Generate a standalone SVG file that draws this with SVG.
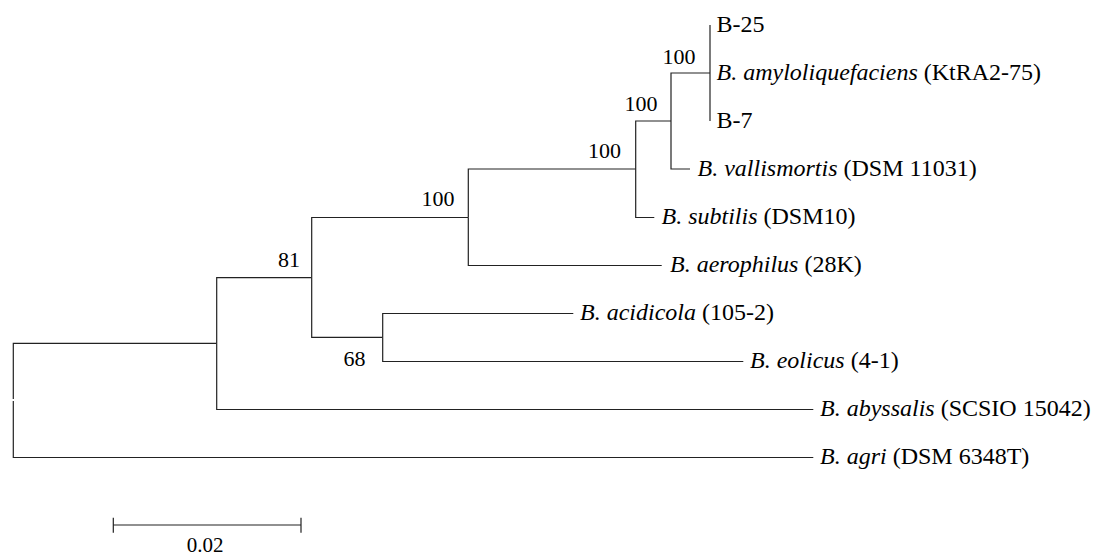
<svg xmlns="http://www.w3.org/2000/svg" width="1093" height="556" viewBox="0 0 1093 556">
<style>
.br{fill:none;stroke:#222;stroke-width:1.2}
.lb{font-family:"Liberation Serif","Times New Roman",serif;font-size:24px;fill:#000}
.bs{font-family:"Liberation Serif","Times New Roman",serif;font-size:22px;fill:#000;text-anchor:end}
.it{font-style:italic}
</style>
<rect width="1093" height="556" fill="#fff"/>
<g id="connectors" class="br">
<path d="M13.3 399 V343.3 H216.7"/>
<path d="M13.3 401 V457.5 H813.3"/>
<path d="M216.7 343.3 V277.7 H311.7"/>
<path d="M216.7 343.3 V409.5 H813.3"/>
<path d="M311.7 277.7 V217.5 H468.3"/>
<path d="M311.7 277.7 V337.3 H382.7"/>
<path d="M382.7 337.3 V313.5 H573.3"/>
<path d="M382.7 337.3 V361.5 H743.3"/>
<path d="M468.3 217.5 V169 H635.7"/>
<path d="M468.3 217.5 V265.5 H661.7"/>
<path d="M635.7 169 V121 H671"/>
<path d="M635.7 169 V217.5 H654.3"/>
<path d="M671 121 V73 H710"/>
<path d="M671 121 V169 H690"/>
<path d="M710 25 V121"/>
</g>
<g id="leaf-b25"><text class="lb" x="716.5" y="31.5">B-25</text></g>
<g id="leaf-amylo"><text class="lb" x="716.5" y="79.5"><tspan class="it">B. amyloliquefaciens</tspan> (KtRA2-75)</text></g>
<g id="leaf-b7"><text class="lb" x="716.5" y="127.5">B-7</text></g>
<g id="leaf-vallismortis"><text class="lb" x="697.5" y="175.5"><tspan class="it">B. vallismortis</tspan> (DSM 11031)</text></g>
<g id="leaf-subtilis"><text class="lb" x="661.5" y="223.5"><tspan class="it">B. subtilis</tspan> (DSM10)</text></g>
<g id="leaf-aerophilus"><text class="lb" x="670" y="271.5"><tspan class="it">B. aerophilus</tspan> (28K)</text></g>
<g id="leaf-acidicola"><text class="lb" x="580" y="319.5"><tspan class="it">B. acidicola</tspan> (105-2)</text></g>
<g id="leaf-eolicus"><text class="lb" x="750" y="367.5"><tspan class="it">B. eolicus</tspan> (4-1)</text></g>
<g id="leaf-abyssalis"><text class="lb" x="820" y="415.5"><tspan class="it">B. abyssalis</tspan> (SCSIO 15042)</text></g>
<g id="leaf-agri"><text class="lb" x="820" y="463.5"><tspan class="it">B. agri</tspan> (DSM 6348T)</text></g>
<g id="node-n1"><text class="bs" x="695.5" y="63.5">100</text></g>
<g id="node-n2"><text class="bs" x="657.5" y="110.5">100</text></g>
<g id="node-n3"><text class="bs" x="621" y="157.7">100</text></g>
<g id="node-n4"><text class="bs" x="454.5" y="206">100</text></g>
<g id="node-n6"><text class="bs" x="300" y="267">81</text></g>
<g id="node-n5"><text class="bs" x="365.4" y="365.7">68</text></g>
<g id="scale-bar">
<path class="br" d="M113.3 525 H301 M113.3 517.7 V532.7 M301 517.7 V532.7"/>
<text x="205" y="551.5" font-family="Liberation Serif, Times New Roman, serif" font-size="21" text-anchor="middle">0.02</text>
</g>
</svg>
